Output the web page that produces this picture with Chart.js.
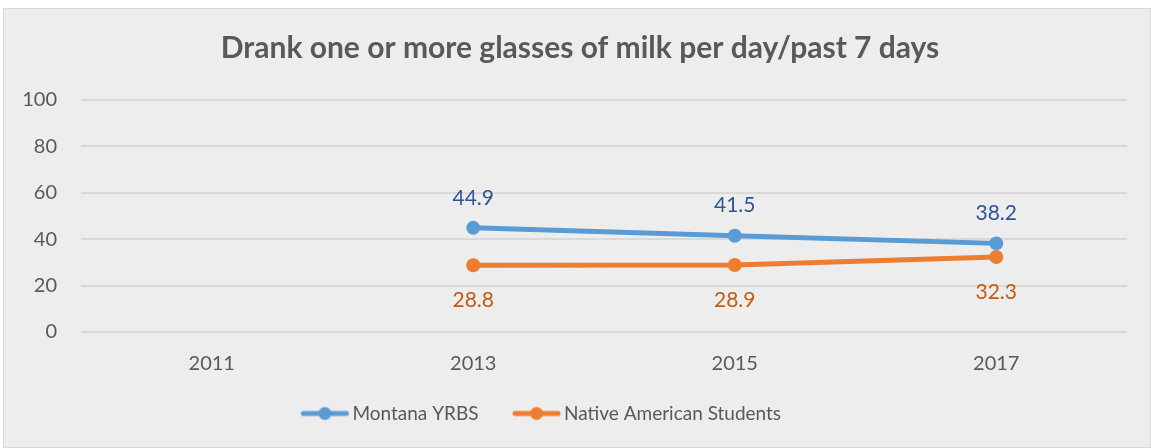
<!DOCTYPE html>
<html><head><meta charset="utf-8">
<script src="https://cdn.jsdelivr.net/npm/chart.js@4/dist/chart.umd.min.js"></script>
<style>
html,body{margin:0;padding:0;background:#fff;}
#wrap{position:absolute;left:3px;top:8px;width:1146px;height:438px;background:#EDEDED;border:1px solid #D9D9D9;}
canvas{display:block;}
</style></head>
<body>
<div id="wrap"><canvas id="c" width="1146" height="438"></canvas></div>
<script>
const categories = ["2011", "2013", "2015", "2017"];
const montanaYRBS = [null, 44.9, 41.5, 38.2];
const nativeAmerican = [null, 28.8, 28.9, 32.3];
const yTicks = [0, 20, 40, 60, 80, 100];

const FONT = "Lato, 'Open Sans', sans-serif";
function legendIcon(color){
  // visible icon sits at the right part of the canvas so it hugs the label text
  const cv = document.createElement('canvas');
  cv.width = 73; cv.height = 16;
  const g = cv.getContext('2d');
  g.strokeStyle = color; g.lineWidth = 5; g.lineCap = 'round';
  g.beginPath(); g.moveTo(27,8); g.lineTo(70,8); g.stroke();
  g.fillStyle = color; g.beginPath(); g.arc(48.5,8,6.5,0,Math.PI*2); g.fill();
  return cv;
}
const labelPlugin = {
  id: 'valueLabels',
  afterLayout(chart){
    // centre title on the whole frame, shift legend a little left, like the original
    if (chart.titleBlock) chart.titleBlock.right += 29;
    if (chart.legend) chart.legend.right -= 67;
  },
  afterDatasetsDraw(chart){
    const ctx = chart.ctx;
    const cfg = [{color:'#2F5597', dy:-30},{color:'#C55A11', dy:35}];
    chart.data.datasets.forEach((ds, i) => {
      const meta = chart.getDatasetMeta(i);
      meta.data.forEach((pt, j) => {
        const v = ds.data[j];
        if (v === null || v === undefined) return;
        ctx.save();
        ctx.font = "21px " + FONT;
        ctx.fillStyle = cfg[i].color;
        ctx.textAlign = 'center';
        ctx.textBaseline = 'middle';
        ctx.fillText(v.toFixed(1), pt.x, pt.y + cfg[i].dy);
        ctx.restore();
      });
    });
  }
};
new Chart(document.getElementById('c'), {
  type: 'line',
  data: {
    labels: categories,
    datasets: [
      {label: 'Montana YRBS', data: montanaYRBS, borderColor: '#5B9BD5', backgroundColor: '#5B9BD5',
       borderWidth: 5, pointRadius: 7, pointBackgroundColor: '#5B9BD5', pointBorderWidth: 0, pointStyle: 'circle'},
      {label: 'Native American Students', data: nativeAmerican, borderColor: '#ED7D31', backgroundColor: '#ED7D31',
       borderWidth: 5, pointRadius: 7, pointBackgroundColor: '#ED7D31', pointBorderWidth: 0, pointStyle: 'circle'}
    ]
  },
  options: {
    responsive: false, animation: false,
    layout: {padding: {left: 0, right: 23, top: 0, bottom: 14}},
    plugins: {
      title: {display: true, text: 'Drank one or more glasses of milk per day/past 7 days',
        color: '#595959', font: {family: FONT, size: 30, weight: 'bold'}, padding: {top: 21, bottom: 34}},
      legend: {position: 'bottom', labels: {color: '#595959', font: {family: FONT, size: 19},
        usePointStyle: true, pointStyleWidth: 60, padding: 16,
        generateLabels(chart){
          return chart.data.datasets.map((ds,i)=>({text: ds.label, pointStyle: legendIcon(ds.borderColor),
            fillStyle: ds.borderColor, strokeStyle: ds.borderColor, lineWidth: 0, datasetIndex: i, fontColor: '#595959'}));
        }}},
      tooltip: {enabled: false}
    },
    scales: {
      x: {offset: true, grid: {display: false}, border: {display: false},
        ticks: {color: '#595959', font: {family: FONT, size: 20}, padding: 12}},
      y: {min: 0, max: 100, afterBuildTicks(s){ s.ticks = yTicks.map(v=>({value:v})); },
        afterFit(s){ s.width = 77; },
        grid: {color: '#D9D9D9', lineWidth: 2, drawTicks: false}, border: {display: false},
        ticks: {color: '#595959', font: {family: FONT, size: 20}, padding: 24}}
    }
  },
  plugins: [labelPlugin]
});
</script>
</body></html>
